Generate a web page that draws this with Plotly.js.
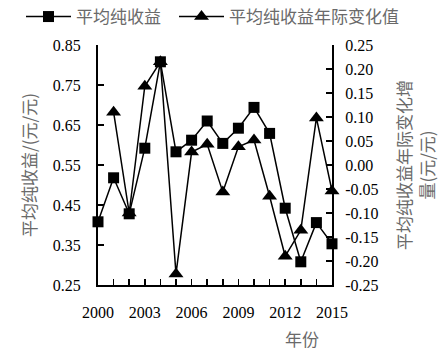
<!DOCTYPE html>
<html>
<head>
<meta charset="utf-8">
<script src="https://cdn.plot.ly/plotly-3.0.1.min.js"></script>
<style>html,body{margin:0;padding:0;background:#fff;}#chart{width:445px;height:351px;}</style>
</head>
<body>
<div id="chart"></div>
<script>
const years = [2000,2001,2002,2003,2004,2005,2006,2007,2008,2009,2010,2011,2012,2013,2014,2015];
const netIncome = [0.408,0.518,0.428,0.592,0.808,0.583,0.612,0.660,0.604,0.642,0.694,0.629,0.442,0.308,0.406,0.353];
const changeYears = [2001,2002,2003,2004,2005,2006,2007,2008,2009,2010,2011,2012,2013,2014,2015];
const annualChange = [0.110,-0.100,0.164,0.215,-0.227,0.027,0.043,-0.056,0.038,0.052,-0.065,-0.190,-0.136,0.098,-0.054];
const seriesNames = ['平均纯收益','平均纯收益年际变化值'];
const xTickLabels = ['2000','2003','2006','2009','2012','2015'];
const leftTicks = [0.25,0.35,0.45,0.55,0.65,0.75,0.85];
const rightTicks = [-0.25,-0.20,-0.15,-0.10,-0.05,0.00,0.05,0.10,0.15,0.20,0.25];

const numFont = {family:'"Liberation Serif", "Times New Roman", serif', size:16, color:'#000'};
const cjkFont = {family:'"Noto Sans CJK SC", sans-serif', size:17, color:'#6a6a6a'};

const traces = [
  {x: years, y: netIncome, name: seriesNames[0], type:'scatter', mode:'lines+markers', legend:'legend',
   line:{color:'#000', width:1.5}, marker:{symbol:'square', size:11, color:'#000'}, cliponaxis:false},
  {x: changeYears, y: annualChange, name: seriesNames[1], type:'scatter', mode:'lines+markers', yaxis:'y2', legend:'legend2',
   line:{color:'#000', width:1.5}, marker:{symbol:'triangle-up', size:13, color:'#000'}, cliponaxis:false}
];

const legendBase = {orientation:'h', xanchor:'left', yref:'container', y:1-17/351, yanchor:'middle', font:cjkFont, bgcolor:'rgba(0,0,0,0)', itemwidth:45, tracegroupgap:0};

const layout = {
  width:445, height:351,
  margin:{l:98, r:113, t:45, b:66, pad:0},
  paper_bgcolor:'#fff', plot_bgcolor:'#fff',
  showlegend:true,
  legend:Object.assign({}, legendBase, {x:(21-98)/234}),
  legend2:Object.assign({}, legendBase, {x:(174-98)/234}),
  xaxis:{range:[2000,2015], tickvals: years, ticktext: years.map(y => xTickLabels.includes(String(y)) ? String(y) : ''),
    ticks:'inside', ticklen:6, tickwidth:1.5, tickcolor:'#000', showline:true, linecolor:'#000', linewidth:2,
    showgrid:false, zeroline:false, tickfont:numFont, ticklabelstandoff:12},
  yaxis:{range:[0.25,0.85], tickvals:leftTicks, ticktext:leftTicks.map(v=>v.toFixed(2)),
    ticks:'inside', ticklen:6, tickwidth:1.5, tickcolor:'#000', showline:true, linecolor:'#000', linewidth:2,
    showgrid:false, zeroline:false, tickfont:numFont, ticklabelstandoff:12,
    title:{text:'平均纯收益/(元/元)', font:cjkFont, standoff:12}},
  yaxis2:{range:[-0.25,0.25], overlaying:'y', side:'right', tickvals:rightTicks, ticktext:rightTicks.map(v=>v.toFixed(2)),
    ticks:'inside', ticklen:6, tickwidth:1.5, tickcolor:'#000', showline:true, linecolor:'#000', linewidth:2,
    showgrid:false, zeroline:false, tickfont:numFont, ticklabelstandoff:8,
    title:{text:'平均纯收益年际变化增<br>量(元/元)', font:cjkFont, standoff:22}},
  annotations:[{text:'年份', xref:'paper', yref:'paper', x:(302-98)/234, y:-(338-285)/240, xanchor:'center', yanchor:'middle', showarrow:false, font:cjkFont}]
};

Plotly.newPlot('chart', traces, layout, {displayModeBar:false, staticPlot:true});
</script>
</body>
</html>
